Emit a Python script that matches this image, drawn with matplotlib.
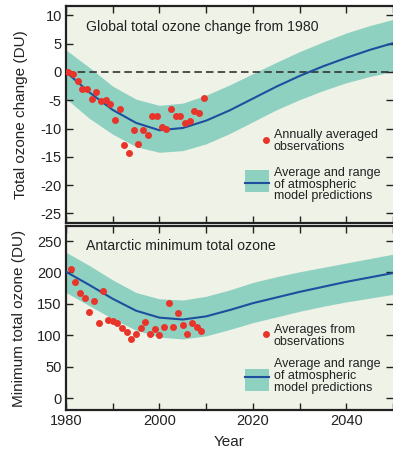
import numpy as np
import matplotlib
matplotlib.use("Agg")
import matplotlib.pyplot as plt
from matplotlib.patches import Rectangle
from matplotlib.lines import Line2D

plt.rcParams['font.family'] = ['Liberation Sans', 'DejaVu Sans']

# ---- Global total ozone change from 1980 (DU) ----
global_obs_years = np.arange(1980, 2010)
global_obs = [0.0, -0.35, -1.6, -3.0, -3.0, -4.7, -3.6, -5.1, -4.9, -5.6,
              -8.4, -6.6, -12.9, -14.4, -10.2, -12.8, -10.3, -11.2, -7.7, -7.7,
              -9.8, -10.0, -6.6, -7.8, -7.7, -9.0, -8.6, -6.9, -7.3, -4.6]

model_years = [1980, 1985, 1990, 1995, 2000, 2005, 2010, 2015,
               2020, 2025, 2030, 2035, 2040, 2045, 2050]
global_mean = [0.0, -3.6, -6.7, -9.0, -10.3, -9.9, -8.6, -6.8,
               -4.7, -2.6, -0.7, 1.0, 2.5, 3.9, 5.1]
global_low = [-4.7, -8.2, -11.0, -13.2, -14.2, -13.9, -12.7, -10.9,
              -8.8, -6.7, -4.9, -3.3, -1.9, -0.8, 0.1]
global_high = [3.9, 0.8, -2.5, -4.8, -5.9, -5.5, -4.1, -2.3,
               -0.3, 1.7, 3.6, 5.3, 6.9, 8.2, 9.3]

# ---- Antarctic minimum total ozone (DU) ----
antarctic_obs_years = np.arange(1981, 2010)
antarctic_obs = [205, 185, 167, 160, 137, 155, 119, 171, 124, 123,
                 120, 112, 105, 94, 102, 112, 121, 102, 110, 101,
                 113, 152, 113, 136, 117, 102, 120, 113, 107]

antarctic_mean = [201, 180, 158, 139, 128, 125, 130, 140,
                  151, 160, 169, 177, 185, 192, 199]
antarctic_low = [168, 147, 126, 108, 97, 94, 99, 109,
                 120, 129, 138, 146, 153, 159, 165]
antarctic_high = [232, 211, 188, 168, 158, 156, 162, 172,
                  184, 193, 201, 208, 215, 222, 229]

x_ticks = [1980, 1990, 2000, 2010, 2020, 2030, 2040, 2050]
x_ticklabels = ['1980', '', '2000', '', '2020', '', '2040', '']

BG = '#eef2e7'
BAND = '#8fd1c1'
LINE = '#1d4f9e'
DOT = '#e8342a'
INK = '#222222'

W, H = 393, 449
fig = plt.figure(figsize=(W / 100, H / 100), dpi=100)
fig.patch.set_facecolor('white')

ax1 = fig.add_axes([66 / W, 1 - 223 / H, (W - 66) / W, 217 / H])
ax2 = fig.add_axes([66 / W, 1 - 410 / H, (W - 66) / W, 184 / H])


def style(ax):
    ax.set_facecolor(BG)
    for side in ('left', 'bottom', 'top'):
        ax.spines[side].set_linewidth(1.6)
        ax.spines[side].set_color(INK)
    ax.spines['right'].set_visible(False)
    ax.tick_params(direction='in', length=5, width=1.0, color=INK,
                   top=True, right=True, labelsize=10.5, labelcolor=INK, pad=3)
    ax.set_xlim(1980, 2050)
    ax.set_xticks(x_ticks)


def legend_block(ax, dot_y, dot_text, dot_text_y, band_y0, band_y1, line_y,
                 band_text, band_text_y):
    tr = ax.transAxes
    ax.add_line(Line2D([0.6116], [dot_y], transform=tr, marker='o', ms=5,
                       color=DOT, mec='none', ls='none', zorder=6))
    ax.text(0.636, dot_text_y, dot_text, transform=tr, fontsize=9,
            va='center', ha='left', color=INK, linespacing=0.95)
    ax.add_patch(Rectangle((0.547, band_y0), 0.074, band_y1 - band_y0,
                           transform=tr, facecolor=BAND, edgecolor='none',
                           zorder=5))
    ax.add_line(Line2D([0.547, 0.621], [line_y, line_y], transform=tr,
                       color=LINE, lw=1.5, zorder=6))
    ax.text(0.636, band_text_y, band_text, transform=tr, fontsize=9,
            va='center', ha='left', color=INK, linespacing=0.95)


# ---- top panel ----
style(ax1)
ax1.set_ylim(-26.7, 11.67)
ax1.set_yticks(np.arange(-25, 11, 5))
ax1.set_yticklabels([str(v) for v in range(-25, 11, 5)])
ax1.set_xticklabels([])
ax1.fill_between(model_years, global_low, global_high, color=BAND, lw=0, zorder=1)
ax1.axhline(0, color='#333333', lw=1.2, dashes=(4.5, 2.5), zorder=2)
ax1.plot(model_years, global_mean, color=LINE, lw=1.5, zorder=3)
ax1.plot(global_obs_years + 0.5, global_obs, 'o', ms=5, color=DOT,
         mec='none', zorder=4)
ax1.text(0.061, 0.905, 'Global total ozone change from 1980',
         transform=ax1.transAxes, fontsize=10.2, va='center', ha='left', color=INK)
ax1.set_ylabel('Total ozone change (DU)', fontsize=11, color=INK, labelpad=9)
legend_block(ax1, 0.3825, 'Annually averaged\nobservations', 0.378,
             0.143, 0.244, 0.184,
             'Average and range\nof atmospheric\nmodel predictions', 0.177)

# ---- bottom panel ----
style(ax2)
ax2.set_ylim(-19.1, 273.9)
ax2.set_yticks(np.arange(0, 251, 50))
ax2.set_xticklabels(x_ticklabels)
ax2.fill_between(model_years, antarctic_low, antarctic_high, color=BAND, lw=0, zorder=1)
ax2.plot(model_years, antarctic_mean, color=LINE, lw=1.5, zorder=3)
ax2.plot(antarctic_obs_years, antarctic_obs, 'o', ms=5, color=DOT,
         mec='none', zorder=4)
ax2.text(0.061, 0.893, 'Antarctic minimum total ozone',
         transform=ax2.transAxes, fontsize=10.2, va='center', ha='left', color=INK)
ax2.set_ylabel('Minimum total ozone (DU)', fontsize=11, color=INK, labelpad=8)
ax2.set_xlabel('Year', fontsize=11, color=INK, labelpad=5)
legend_block(ax2, 0.411, 'Averages from\nobservations', 0.402,
             0.105, 0.223, 0.181,
             'Average and range\nof atmospheric\nmodel predictions', 0.185)

fig.savefig('out.png', dpi=100, facecolor='white')
